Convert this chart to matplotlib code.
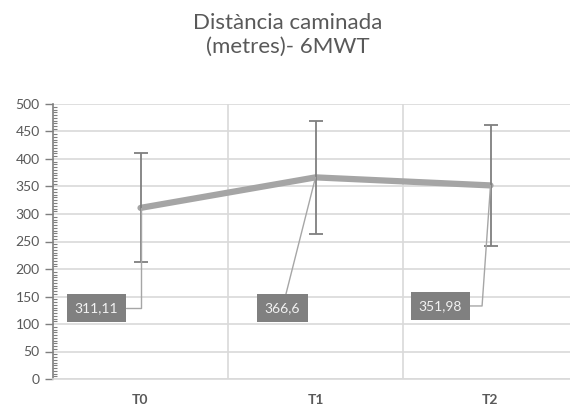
import matplotlib
matplotlib.use('Agg')
import matplotlib.pyplot as plt
from matplotlib.ticker import MultipleLocator, FixedLocator

plt.rcParams['font.family'] = ['Lato', 'DejaVu Sans']

# ── data ──────────────────────────────────────────────────────────────────────
categories = ['T0', 'T1', 'T2']
means      = [311.11, 366.6, 351.98]
errors     = [99, 103, 110]
labels     = ['311,11', '366,6', '351,98']

TEXT_GRAY = '#595959'
GRID_GRAY = '#d9d9d9'
LINE_GRAY = '#a5a5a5'
ERR_GRAY  = '#7f7f7f'

fig = plt.figure(figsize=(5.7, 4.07), dpi=100)
ax = fig.add_axes([53 / 570, 28 / 407, 525 / 570, 275 / 407])

x = list(range(len(categories)))

ax.plot(x, means, color=LINE_GRAY, linewidth=4.5, solid_capstyle='round', zorder=3)
ax.errorbar(x, means, yerr=errors, fmt='none', ecolor=ERR_GRAY, elinewidth=1.3,
            capsize=5, capthick=1.3, zorder=4)

# ── data labels with leader lines ────────────────────────────────────────────
offsets = [(-31.7, -72), (-23.8, -94), (-36, -86.8)]
conns   = ['angle,angleA=0,angleB=90,rad=0', 'arc3,rad=0', 'angle,angleA=0,angleB=86,rad=0']
for xi, yi, lab, off, cs in zip(x, means, labels, offsets, conns):
    ax.annotate(lab, xy=(xi, yi), xytext=off, textcoords='offset points',
                ha='center', va='center', fontsize=10, color='#f2f2f2',
                bbox=dict(boxstyle='square,pad=0.55', facecolor='#808080', edgecolor='none'),
                arrowprops=dict(arrowstyle='-', color='#a6a6a6', linewidth=1,
                                connectionstyle=cs, shrinkA=0, shrinkB=0),
                zorder=5)

# ── axes ─────────────────────────────────────────────────────────────────────
ax.set_xlim(-0.5, 2.5)
ax.set_ylim(0, 500)
ax.set_xticks(x)
ax.set_xticklabels(categories, fontweight='bold', fontsize=10, color=TEXT_GRAY)
ax.xaxis.set_minor_locator(FixedLocator([0.5, 1.5]))
ax.tick_params(axis='x', which='both', length=0, pad=11)

ax.yaxis.set_major_locator(MultipleLocator(50))
ax.yaxis.set_minor_locator(MultipleLocator(5))
ax.tick_params(axis='y', which='major', length=6, width=1, color=ERR_GRAY,
               labelsize=10, labelcolor=TEXT_GRAY, direction='out')
ax.tick_params(axis='y', which='minor', length=3, width=0.8, color=ERR_GRAY,
               direction='in')

ax.grid(axis='y', which='major', color=GRID_GRAY, linewidth=1.2)
ax.grid(axis='x', which='minor', color=GRID_GRAY, linewidth=1.2)
ax.set_axisbelow(True)

for s in ['top', 'right']:
    ax.spines[s].set_visible(False)
ax.spines['left'].set_color(ERR_GRAY)
ax.spines['left'].set_linewidth(1.2)
ax.spines['bottom'].set_color(GRID_GRAY)
ax.spines['bottom'].set_linewidth(1.2)

fig.text(0.505, 1 - 35 / 407, 'Distància caminada\n(metres)- 6MWT', ha='center', va='center',
         fontsize=16, color=TEXT_GRAY, linespacing=1.25)

fig.savefig('out.png', dpi=100)
